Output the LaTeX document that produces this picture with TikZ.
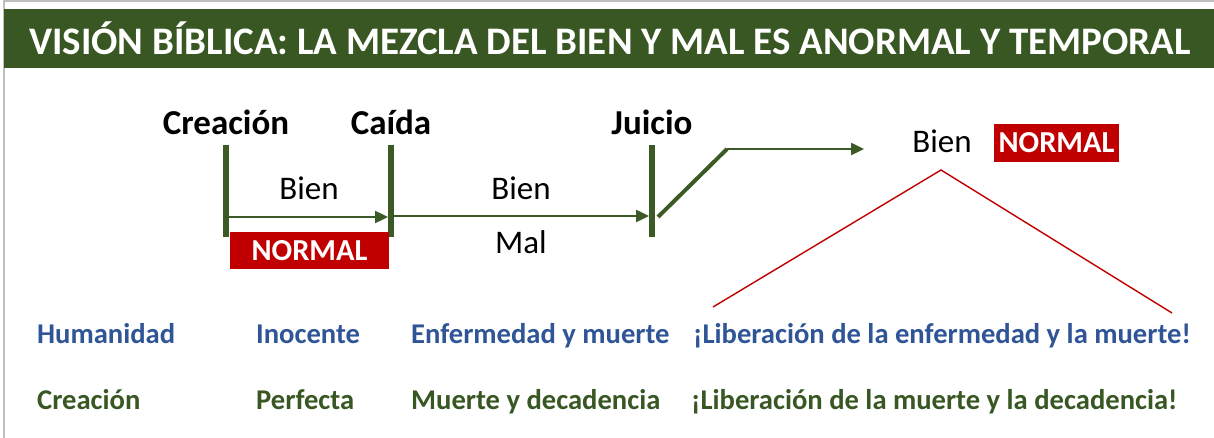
\documentclass[tikz,border=0pt]{standalone}
\usepackage{fontspec}
\setmainfont{Carlito}
\usetikzlibrary{arrows.meta}
\definecolor{titlegreen}{HTML}{385723}
\definecolor{linegreen}{HTML}{3C5A26}
\definecolor{boxred}{HTML}{C00000}
\definecolor{txtblue}{HTML}{2F5597}
\definecolor{txtgreen}{HTML}{385723}
\definecolor{framegray}{HTML}{BFBFBF}
\tikzset{
  evlabel/.style={font=\bfseries\fontsize{35}{40}\selectfont, text=black, anchor=base, inner sep=0pt},
  plain/.style={font=\fontsize{33}{38}\selectfont, text=black, anchor=base, inner sep=0pt},
  redbox/.style={fill=boxred, text=white, font=\bfseries\fontsize{30.5}{34}\selectfont, inner sep=0pt},
  tlbar/.style={draw=linegreen, line width=6pt},
  tlarrow/.style={draw=linegreen, line width=2.4pt, -{Triangle[length=13pt,width=12pt]}},
  redline/.style={draw=boxred, line width=1.4pt},
  bluetxt/.style={font=\bfseries\fontsize{28.6}{32}\selectfont, text=txtblue, anchor=base west, inner sep=0pt},
  greentxt/.style={font=\bfseries\fontsize{28.6}{32}\selectfont, text=txtgreen, anchor=base west, inner sep=0pt},
}
\begin{document}
\begin{tikzpicture}[x=1pt,y=-1pt]
\useasboundingbox (0,0) rectangle (1214,438);
\fill[white] (0,0) rectangle (1214,438);
\draw[framegray, line width=1.5pt] (4,438) -- (4,1) -- (1214,1);
\fill[titlegreen] (4,9) rectangle (1214,68);
\node[text=white, font=\bfseries\fontsize{39}{44}\selectfont, anchor=base, inner sep=0pt] (title) at (610,55)
  {VISIÓN BÍBLICA: LA MEZCLA DEL BIEN Y MAL ES ANORMAL Y TEMPORAL};

% event labels
\node[evlabel] (creacion) at (226,135) {Creación};
\node[evlabel] (caida) at (391,135) {Caída};
\node[evlabel] (juicio) at (652,135) {Juicio};

% bars
\coordinate (b1t) at (226,145); \coordinate (b1b) at (226,237);
\coordinate (b2t) at (391,145); \coordinate (b2b) at (391,237);
\coordinate (b3t) at (652,145); \coordinate (b3b) at (652,237);
\draw[tlbar] (b1t) -- (b1b);
\draw[tlbar] (b2t) -- (b2b);
\draw[tlbar] (b3t) -- (b3b);

% arrows
\coordinate (a1s) at (229,217); \coordinate (a1e) at (388,217);
\coordinate (a2s) at (394,216); \coordinate (a2e) at (649,216);
\draw[tlarrow] (a1s) -- (a1e);
\draw[tlarrow] (a2s) -- (a2e);
\coordinate (d1) at (658,217); \coordinate (d2) at (727,149); \coordinate (d3) at (864,149);
\draw[draw=linegreen, line width=4pt] (d1) -- (d2);
\draw[tlarrow] (d2) -- (d3);

% texts on timeline
\node[plain] (bien1) at (309,200) {Bien};
\node[redbox, minimum width=159pt, minimum height=37pt] (normal1) at (309.5,250.5) {NORMAL};
\node[plain] (bien2) at (521,200) {Bien};
\node[plain] (mal) at (521,253) {Mal};

\node[plain] (bien3) at (942,153) {Bien};
\node[redbox, minimum width=125pt, minimum height=38pt] (normal2) at (1056.5,143) {NORMAL};

% red lines
\coordinate (apex) at (941,170);
\coordinate (rl) at (713,307);
\coordinate (rr) at (1172,313);
\draw[redline] (rl) -- (apex) -- (rr);

% bottom rows
\node[bluetxt] (h1) at (37,343) {Humanidad};
\node[bluetxt] (h2) at (256,343) {Inocente};
\node[bluetxt] (h3) at (411,343) {Enfermedad y muerte};
\node[bluetxt] (h4) at (693,343) {¡Liberación de la enfermedad y la muerte!};
\node[greentxt] (c1) at (37,409) {Creación};
\node[greentxt] (c2) at (256,409) {Perfecta};
\node[greentxt] (c3) at (411,409) {Muerte y decadencia};
\node[greentxt] (c4) at (691,409) {¡Liberación de la muerte y la decadencia!};
\end{tikzpicture}
\end{document}
